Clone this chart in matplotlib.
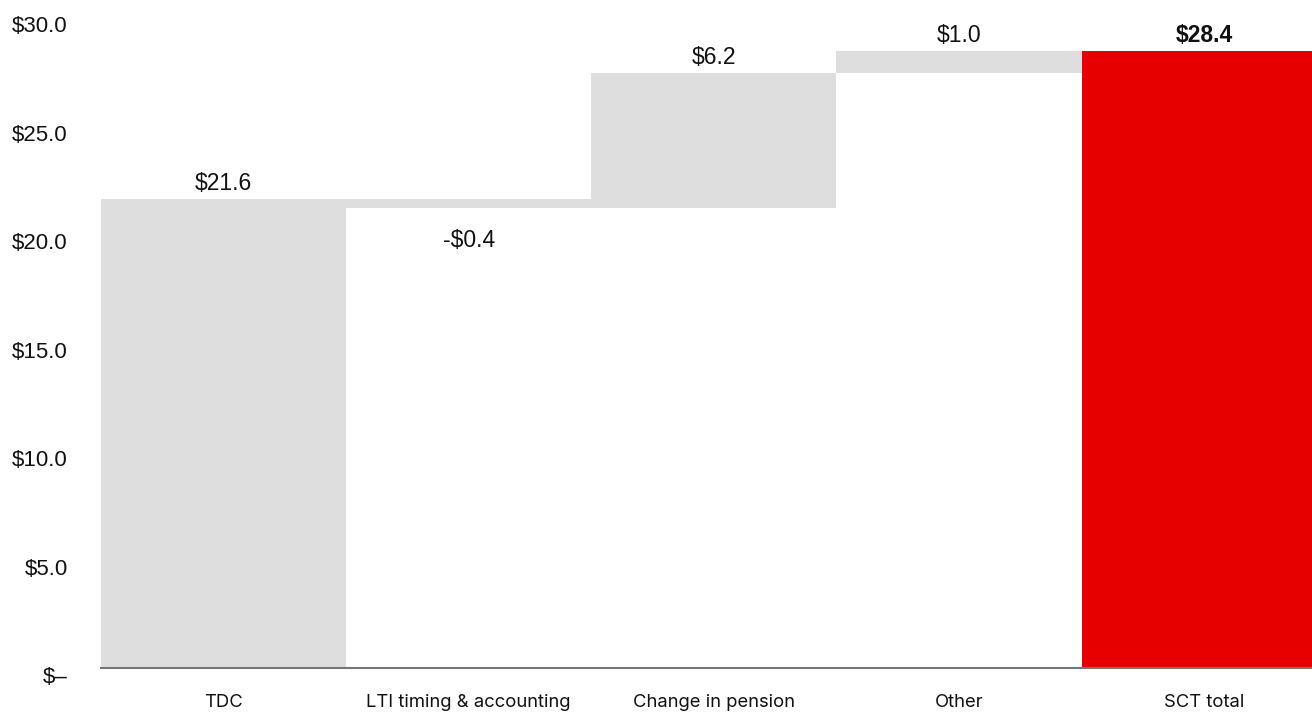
import matplotlib
matplotlib.use("Agg")
import matplotlib.pyplot as plt
from matplotlib.ticker import FuncFormatter
from matplotlib.transforms import ScaledTranslation

categories = ["TDC", "LTI timing & accounting", "Change in pension", "Other", "SCT total"]
changes = [21.6, -0.4, 6.2, 1.0]
total = 28.4
yticks = [0, 5, 10, 15, 20, 25, 30]

grey = "#dedede"
red = "#e60000"

plt.rcParams['font.family'] = ['Liberation Sans', 'DejaVu Sans']

fig = plt.figure(figsize=(13.12, 7.13), dpi=100)
ax = fig.add_axes([101 / 1312, 45.3 / 713, 1211 / 1312, 651 / 713])

# waterfall steps
bottoms = []
heights = []
running = 0.0
for v in changes:
    if v >= 0:
        bottoms.append(running)
        heights.append(v)
    else:
        bottoms.append(running + v)
        heights.append(-v)
    running += v
bottoms.append(0)
heights.append(total)
colors = [grey] * len(changes) + [red]

x = list(range(len(categories)))
ax.bar(x, heights, bottom=bottoms, width=1.0, color=colors, linewidth=0)

# value labels
values = changes + [total]
for i, v in enumerate(values):
    top = bottoms[i] + heights[i]
    txt = f"${v:.1f}" if v >= 0 else f"-${abs(v):.1f}"
    weight = "bold" if i == len(values) - 1 else "normal"
    if v >= 0:
        ax.annotate(txt, (i, top), xytext=(0, 6.5), textcoords="offset points",
                    ha="center", va="baseline", fontsize=16.5, fontweight=weight,
                    color="#111111", annotation_clip=False)
    else:
        ax.annotate(txt, (i, bottoms[i]), xytext=(0, -28.5), textcoords="offset points",
                    ha="center", va="baseline", fontsize=16.5, color="#111111",
                    annotation_clip=False)

ax.set_xlim(-0.5, 4.44)
ax.set_ylim(0, 30)
ax.set_yticks(yticks)
ax.yaxis.set_major_formatter(FuncFormatter(lambda v, p: "$\u2013" if v == 0 else f"${v:.1f}"))
ax.set_xticks(x)
ax.set_xticklabels(categories, fontfamily=['Inter', 'DejaVu Sans'])
ax.tick_params(axis="y", length=0, pad=24, labelsize=16, labelcolor="#111111")
ax.tick_params(axis="x", length=0, pad=19, labelsize=13.3, labelcolor="#111111")

# tick labels sit a little below their gridline positions
shift = ScaledTranslation(0, -5.5 / 72, fig.dpi_scale_trans)
for lab in ax.get_yticklabels():
    lab.set_transform(lab.get_transform() + shift)

for s in ["top", "right", "left"]:
    ax.spines[s].set_visible(False)
ax.spines["bottom"].set_color("#777777")
ax.spines["bottom"].set_linewidth(1.5)

fig.savefig("out.png", dpi=100)
